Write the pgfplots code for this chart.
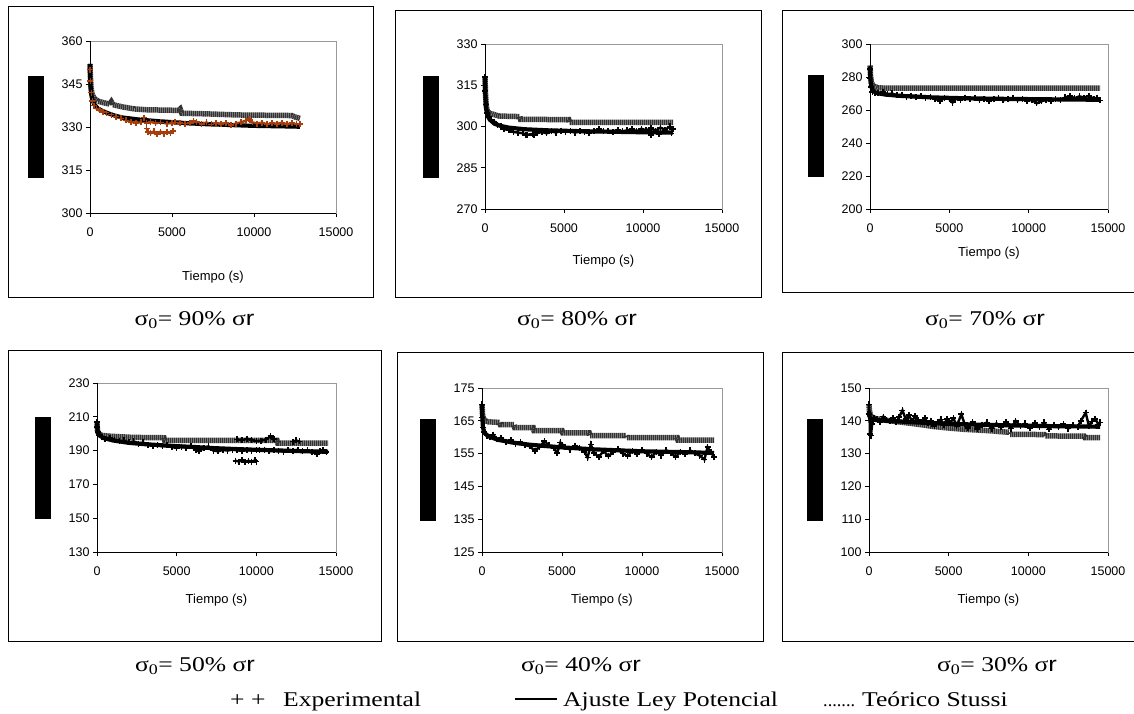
\documentclass[border=0pt]{standalone}
\usepackage{fontspec}
\setmainfont{Liberation Serif}
\newfontfamily\sansf{Liberation Sans}
\usepackage{graphicx}
\usepackage{pgfplots}
\pgfplotsset{compat=1.18}
\definecolor{expor}{HTML}{A63E0C}
\newcommand\tickf{\sansf\fontsize{12.5}{13}\selectfont}
\newcommand\labf{\sansf\fontsize{13}{14}\selectfont}
\newcommand\capf{\fontsize{21}{24}\selectfont}
\newcommand\captxt[1]{\scalebox{1.22}[1]{\capf σ\textsubscript{0}= #1\% σ{\sansf r}}}
\newcommand\legtxt[1]{\scalebox{1.22}[1]{\capf #1}}
\pgfplotsset{
  panel/.style={
    scale only axis, xmin=0, xmax=15000,
    xtick={0,5000,10000,15000},
    axis line style={draw=black!40, line width=0.7pt},
    tick align=outside, xtick pos=left, ytick pos=left,
    major tick length=4pt,
    tick style={black, line width=0.7pt},
    ticklabel style={font=\tickf},
    /pgf/number format/assume math mode=true,
    /pgf/number format/1000 sep={},
    scaled x ticks=false, scaled y ticks=false,
    xticklabel style={yshift=-7pt},
    xlabel={Tiempo (s)},
    every axis x label/.style={at={(axis description cs:0.5,0)}, anchor=center, font=\labf},
    ylabel={\rule{16pt}{102pt}},
    every axis y label/.style={at={(axis description cs:0,0.5)}, anchor=center, xshift=-54pt, inner sep=0pt},
    clip=false,
  },
  stu/.style={draw=black!80, line width=5.5pt, dash pattern=on 1.5pt off 0.5pt, no marks},
  fit/.style={draw=black, line width=4.2pt, no marks},
  exp/.style={mark=+, mark size=3pt, line width=2.4pt, mark options={line width=1.6pt, solid}},
  expo/.style={only marks, mark=+, mark size=3pt, mark options={line width=1.6pt, solid}},
}
\newcommand\blackframe{\draw[black, line width=0.8pt] (rel axis cs:0,1) -- (rel axis cs:0,0) -- (rel axis cs:1,0);}
\begin{document}
\begin{tikzpicture}
\path[use as bounding box] (0pt,0pt) rectangle (1134pt,713pt);
% outer boxes
\draw[line width=1pt] (8pt,706pt) rectangle (373pt,415pt);
\draw[line width=1pt] (395pt,702pt) rectangle (761pt,415pt);
\draw[line width=1pt] (782pt,702pt) rectangle (1150pt,420pt);
\draw[line width=1pt] (8pt,363pt) rectangle (381pt,72pt);
\draw[line width=1pt] (397pt,361pt) rectangle (763pt,72pt);
\draw[line width=1pt] (782pt,361pt) rectangle (1150pt,72pt);

% ---------- Panel 1: 90%
\begin{axis}[panel, at={(90pt,500pt)}, anchor=south west, width=246pt, height=172pt,
  ymin=300, ymax=360, ytick={300,315,330,345,360}, xlabel style={yshift=-64pt}]
\addplot[stu] coordinates {(0,352) (20,348) (60,344) (120,341.5) (250,340) (500,339) (800,338.5) (1200,338) (1300,338.8) (1400,337.8) (2000,337) (2700,336.3) (3500,336) (5400,335.8) (5500,336.3) (5600,334.8) (7000,334.6) (9000,334.2) (12300,334) (12500,333.5) (12800,333)};
\addplot[exp, color=expor] coordinates {(0,350) (30,346) (80,342) (150,339) (250,337.5) (400,336.5) (600,336) (800,335.3) (1000,335) (1300,334.3) (1600,333.6) (1900,333) (2200,332.3) (2500,331.8) (2800,331.5) (3100,331.6) (3300,333.3) (3450,331.5) (3700,331.8) (4000,331.3) (4300,331.6) (4700,331.2) (5000,331.5) (5200,331.6) (5500,331.4) (5800,331.2) (6100,331.5) (6300,332) (6500,331.8) (6800,331) (7100,331.6) (7400,330.9) (7700,331.3) (8000,331) (8300,331.4) (8600,330.8) (8900,331.2) (9200,331.6) (9500,332.2) (9700,332.8) (9900,331.6) (10200,331.2) (10500,331.5) (10800,330.9) (11100,331.3) (11400,331.1) (11700,331.5) (12000,331) (12300,331.3) (12600,330.9) (12800,331)};
\addplot[exp, color=expor] coordinates {(3450,329.5) (3550,328.2) (3700,327.8) (3900,328.5) (4100,327.6) (4300,328.4) (4500,327.7) (4700,328.3) (4900,327.9) (5050,328.6)};
\addplot[fit] coordinates {(0,352) (20,346) (60,342) (120,340) (250,338) (500,336.3) (1000,335) (1500,334) (2000,333.3) (3000,332.6) (4000,332.1) (5000,331.7) (6000,331.3) (7000,331) (8000,330.8) (9000,330.6) (10000,330.4) (11000,330.3) (12000,330.2) (12800,330.1)};
\blackframe
\end{axis}

% ---------- Panel 2: 80%
\begin{axis}[panel, at={(485pt,504pt)}, anchor=south west, width=237pt, height=165pt,
  ymin=270, ymax=330, ytick={270,285,300,315,330}, xlabel style={yshift=-52pt}]
\addplot[stu] coordinates {(0,318) (30,312) (80,307.5) (150,305.5) (300,304.8) (600,304.3) (900,303.8) (2200,303.6) (2250,302.6) (5300,302.5) (5350,301.5) (11900,301.5)};
\addplot[exp, color=black] coordinates {(0,318) (30,313) (80,308) (150,305) (250,303.5) (400,302.5) (600,301.8) (800,300.5) (1000,300) (1200,299) (1500,298.8) (1800,298) (2100,297.8) (2400,297.5) (2700,297) (3000,297.3) (3300,297.6) (3600,298) (3900,297.5) (4200,298.2) (4500,297.8) (4800,298.5) (5100,298) (5400,298.3) (5700,297.8) (6000,298.2) (6300,298) (6600,297.6) (6900,298.3) (7200,299) (7500,298.2) (7800,298.4) (8100,298) (8400,298.8) (8700,298.2) (9000,298.6) (9300,299) (9600,298.3) (9900,299.2) (10200,298.6) (10500,299.4) (10800,298.5) (11100,299.6) (11400,298.8) (11700,300) (11900,299)};
\addplot[expo, color=black] coordinates {(10500,297) (11000,297.3) (11800,297.5) (2600,296.8) (3100,296.9)};
\addplot[fit] coordinates {(0,318) (20,312) (60,307) (150,304) (300,302.5) (600,301) (1000,300.2) (1500,299.6) (2500,299) (4000,298.6) (6000,298.3) (8000,298.1) (10000,297.9) (11900,297.8)};
\blackframe
\end{axis}

% ---------- Panel 3: 70%
\begin{axis}[panel, at={(870pt,504pt)}, anchor=south west, width=238pt, height=165pt,
  ymin=200, ymax=300, ytick={200,220,240,260,280,300}, xlabel style={yshift=-44pt}]
\addplot[stu] coordinates {(0,287) (30,281) (80,277) (200,274.5) (500,273.5) (1000,273.2) (14500,273.2)};
\addplot[exp, color=black] coordinates {(0,285) (30,279) (80,274) (150,271) (300,270.5) (500,270) (800,271) (1100,269.5) (1400,270) (1700,268.8) (2000,269.2) (2300,268) (2600,268.6) (2900,267.8) (3200,268.2) (3500,267.5) (3800,268) (4100,266.8) (4400,265.5) (4700,267.3) (5000,266.6) (5200,264.5) (5400,266.8) (5700,266.2) (6000,267.5) (6300,266.5) (6600,267.1) (6900,266) (7200,266.8) (7500,265.6) (7800,266.4) (8100,267) (8400,265.8) (8700,266.5) (9000,267.2) (9300,265.9) (9600,266.6) (9900,265.5) (10200,266.2) (10500,264) (10800,265.2) (11100,266.3) (11400,265.6) (11700,266.6) (12000,266) (12300,267.6) (12600,268.5) (12900,267.2) (13200,268.3) (13500,267.5) (13800,268.6) (14100,266.8) (14300,267.4) (14500,265.8)};
\addplot[fit] coordinates {(0,286) (20,280) (60,275) (150,272) (400,270.3) (1000,269.3) (2000,268.5) (4000,267.6) (6000,267.1) (8000,266.8) (10000,266.6) (12000,266.4) (14500,266.2)};
\blackframe
\end{axis}

% ---------- Panel 4: 50%
\begin{axis}[panel, at={(97pt,161pt)}, anchor=south west, width=239pt, height=169pt,
  ymin=130, ymax=230, ytick={130,150,170,190,210,230}, xlabel style={yshift=-48pt}]
\addplot[stu] coordinates {(0,206) (30,202) (100,200) (300,199) (800,198.5) (2300,197.8) (4200,197.6) (4250,196) (11300,196) (11350,194.4) (14500,194.4)};
\addplot[exp, color=black] coordinates {(0,207) (30,204) (80,201) (150,199) (300,198) (500,197) (800,197.5) (1100,196.5) (1400,195.5) (1700,196) (2000,194.8) (2300,195.5) (2600,194.2) (2900,194.8) (3200,193.6) (3500,192.8) (3800,193.5) (4100,192.6) (4400,193.3) (4700,192.2) (5000,191.5) (5300,192.4) (5600,191.8) (5900,192.5) (6200,190.5) (6400,189.5) (6700,191.5) (7000,192.5) (7300,190) (7600,189.6) (7900,190.4) (8200,190) (8500,190.6) (8800,190.2) (9100,189.8) (9400,190.5) (9700,190) (10000,190.3) (10200,190.2) (10500,190.6) (10800,189.8) (11100,190.5) (11400,190) (11700,189.4) (12000,190.3) (12300,189.8) (12600,190.5) (12900,189.6) (13200,190.2) (13500,189.2) (13800,188) (14000,189.5) (14200,190.2) (14400,189)};
\addplot[exp, color=black] coordinates {(8700,184) (8900,183.5) (9100,184.3) (9300,183.3) (9500,184) (9700,183.4) (9900,184.2) (10000,183.5)};
\addplot[exp, color=black] coordinates {(8800,196.6) (9100,196.2) (9400,197) (9700,196.4) (10000,195.6) (10300,195.9) (10600,196.5) (10900,198.5) (11100,197)};
\addplot[exp, color=black] coordinates {(12300,195.3) (12500,196) (12700,195.4)};
\addplot[fit] coordinates {(0,207) (20,203) (60,200.5) (150,199) (400,197.5) (1000,196) (2000,194.6) (3000,193.8) (4000,193.2) (5000,192.6) (6000,192.2) (7000,191.6) (8000,191.2) (9000,190.8) (10000,190.5) (11000,190.2) (12000,189.9) (13000,189.6) (14500,189.3)};
\blackframe
\end{axis}

% ---------- Panel 5: 40%
\begin{axis}[panel, at={(482pt,161pt)}, anchor=south west, width=240pt, height=164pt,
  ymin=125, ymax=175, ytick={125,135,145,155,165,175}, xlabel style={yshift=-48pt}]
\addplot[stu] coordinates {(0,170) (30,167) (80,165.8) (200,165) (400,164.7) (1100,164.5) (1150,163.8) (2000,163.8) (2050,162.9) (3200,162.9) (3250,162) (5000,162) (5050,161.3) (6700,161.3) (6750,160.5) (9000,160.5) (9050,159.9) (12200,159.9) (12250,159.1) (14500,159.1)};
\addplot[exp, color=black] coordinates {(0,170) (30,166) (80,163) (150,161.5) (300,160.5) (500,160) (700,160.8) (900,159.5) (1200,159.8) (1500,158.6) (1800,159.2) (2100,158) (2400,158.5) (2700,157.6) (3000,157.2) (3300,155.8) (3600,157) (3900,158.8) (4200,157.5) (4500,156.6) (4700,155.2) (4900,158.4) (5200,157) (5500,156.2) (5800,157.4) (6100,156.8) (6400,155.5) (6600,153.8) (6800,157.8) (7000,155.2) (7300,154) (7600,155.8) (7900,154.2) (8200,155.5) (8500,156.4) (8800,155) (9100,154.3) (9400,155.8) (9700,154.8) (10000,156.2) (10300,155) (10600,153.9) (10900,155.6) (11200,154.4) (11500,156) (11800,155.2) (12100,154) (12400,155.5) (12700,154.8) (13000,156) (13300,155.1) (13600,154.4) (13900,153.2) (14100,157) (14300,155.4) (14500,154)};
\addplot[fit] coordinates {(0,170) (20,166) (60,163) (150,161.3) (400,160.3) (1000,159.2) (2000,158.3) (3000,157.7) (4000,157.3) (5000,156.9) (6000,156.6) (7000,156.3) (8000,156.1) (9000,155.9) (10000,155.7) (11000,155.6) (12000,155.5) (13000,155.4) (14500,155.2)};
\blackframe
\end{axis}

% ---------- Panel 6: 30%
\begin{axis}[panel, at={(869pt,161pt)}, anchor=south west, width=239pt, height=164pt,
  ymin=100, ymax=150, ytick={100,110,120,130,140,150}, xlabel style={yshift=-48pt}]
\addplot[stu] coordinates {(0,145) (30,143) (100,141.5) (300,140.8) (1000,140.2) (2000,139.6) (3000,139) (4000,138.3) (5000,137.8) (6000,137.4) (7500,137) (8800,136.5) (8850,135.9) (11000,135.8) (11050,135.4) (13500,135.3) (13550,134.9) (14500,134.9)};
\addplot[exp, color=black] coordinates {(0,145) (30,142) (60,136) (120,135.5) (200,139) (300,141) (500,140.5) (700,139.5) (900,141.3) (1100,140.2) (1300,139.8) (1500,140.8) (1700,139.5) (1900,141.2) (2100,143.2) (2300,140.5) (2500,141.8) (2700,139.8) (2900,141.5) (3100,140.2) (3300,139.6) (3500,140.8) (3700,139.2) (3900,140) (4100,138.5) (4300,139.6) (4500,140.4) (4700,138.8) (4900,140.6) (5100,139.4) (5300,140.8) (5500,138.4) (5800,142) (6000,139) (6200,137.8) (6500,139.6) (6800,137.5) (7100,138.8) (7400,139.5) (7700,137.6) (8000,139.2) (8300,138) (8600,139.6) (8900,137.6) (9200,140) (9500,138.4) (9800,139.2) (10100,137.8) (10400,139.4) (10700,138.2) (11000,139.5) (11300,137.4) (11600,138.8) (11900,138) (12200,139) (12500,137.6) (12800,138.6) (13100,138.2) (13300,140) (13600,142.5) (13800,138.4) (14000,139.8) (14200,140.6) (14400,138.8) (14500,139.5)};
\addplot[fit] coordinates {(0,143) (20,141.5) (100,140.5) (500,140.2) (1500,139.9) (3000,139.5) (5000,139.1) (7000,138.8) (9000,138.6) (11000,138.4) (13000,138.3) (14500,138.2)};
\blackframe
\end{axis}

% captions
\node[anchor=base, inner sep=0pt] at (194.5pt,388pt) {\captxt{90}};
\node[anchor=base, inner sep=0pt] at (577pt,388pt) {\captxt{80}};
\node[anchor=base, inner sep=0pt] at (985pt,388pt) {\captxt{70}};
\node[anchor=base, inner sep=0pt] at (195pt,42pt) {\captxt{50}};
\node[anchor=base, inner sep=0pt] at (581pt,42pt) {\captxt{40}};
\node[anchor=base, inner sep=0pt] at (997pt,42pt) {\captxt{30}};
% legend
\node[anchor=base west, inner sep=0pt] at (230pt,7pt) {\legtxt{+ +}};
\node[anchor=base west, inner sep=0pt] at (283pt,7pt) {\legtxt{Experimental}};
\draw[line width=1.3pt] (515pt,14pt) -- (557pt,14pt);
\node[anchor=base west, inner sep=0pt] at (563pt,7pt) {\legtxt{Ajuste Ley Potencial}};
\node[anchor=base west, inner sep=0pt] at (823pt,7pt) {\resizebox{32pt}{!}{\capf .......}};
\node[anchor=base west, inner sep=0pt] at (862pt,7pt) {\legtxt{Teórico Stussi}};
\end{tikzpicture}
\end{document}
